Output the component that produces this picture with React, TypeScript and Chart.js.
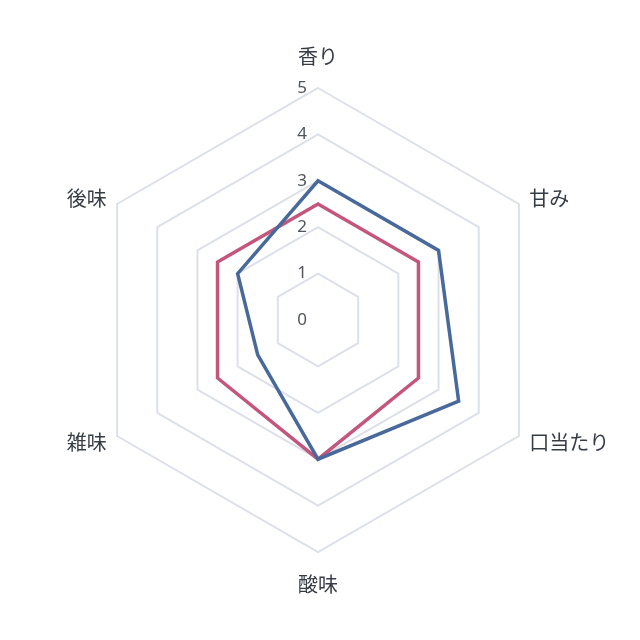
import { useEffect, useRef } from "react"
import { Chart, registerables } from "chart.js"

Chart.register(...registerables)

const categories = ["香り", "甘み", "口当たり", "酸味", "雑味", "後味"]
const blueValues = [3, 3, 3.5, 3, 1.5, 2]
const pinkValues = [2.5, 2.5, 2.5, 3, 2.5, 2.5]
const tickValues = [0, 1, 2, 3, 4, 5]

// draws tick numbers left of the vertical axis and the category labels
const radarText = {
  id: "radarText",
  afterDraw(chart: Chart) {
    const scale: any = chart.scales.r
    const ctx = chart.ctx
    ctx.save()
    ctx.textBaseline = "middle"

    ctx.font = "17px 'Noto Sans', sans-serif"
    ctx.fillStyle = "#4f545c"
    ctx.textAlign = "center"
    tickValues.forEach((v) => {
      const d = scale.getDistanceFromCenterForValue(v)
      ctx.fillText(String(v), scale.xCenter - 16, scale.yCenter - d)
    })

    ctx.font = "20px 'Noto Sans CJK JP', sans-serif"
    ctx.fillStyle = "#363c45"
    categories.forEach((label, i) => {
      const probe = scale.getPointPosition(i, scale.drawingArea)
      const vertical = Math.abs(probe.x - scale.xCenter) < 1
      const pos = scale.getPointPosition(i, scale.drawingArea + (vertical ? 32 : 12))
      if (vertical) ctx.textAlign = "center"
      else ctx.textAlign = pos.x > scale.xCenter ? "left" : "right"
      ctx.fillText(label, pos.x, pos.y)
    })

    ctx.restore()
  },
}

export default function App() {
  const chartRef = useRef<HTMLCanvasElement>(null)
  const chartInstance = useRef<Chart | null>(null)

  useEffect(() => {
    if (!chartRef.current) return
    if (chartInstance.current) chartInstance.current.destroy()

    const ctx = chartRef.current.getContext("2d")
    if (!ctx) return

    chartInstance.current = new Chart(ctx, {
      type: "radar",
      data: {
        labels: categories,
        datasets: [
          {
            data: blueValues,
            borderColor: "#48699a",
            borderWidth: 3.5,
            backgroundColor: "transparent",
            fill: false,
            pointRadius: 0,
            tension: 0,
          },
          {
            data: pinkValues,
            borderColor: "#c4567e",
            borderWidth: 3.5,
            backgroundColor: "transparent",
            fill: false,
            pointRadius: 0,
            tension: 0,
          },
        ],
      },
      options: {
        animation: false,
        responsive: true,
        maintainAspectRatio: false,
        layout: {
          padding: { left: 86, right: 90, top: 88, bottom: 88 },
        },
        scales: {
          r: {
            min: 0,
            max: 5,
            ticks: { display: false, stepSize: 1 },
            grid: { color: "#dce0e8", lineWidth: 2 },
            angleLines: { display: false },
            pointLabels: { display: false },
          },
        },
        plugins: {
          legend: { display: false },
          tooltip: { enabled: false },
        },
      },
      plugins: [radarText],
    })

    return () => {
      if (chartInstance.current) {
        chartInstance.current.destroy()
        chartInstance.current = null
      }
    }
  }, [])

  return (
    <div style={{ position: "fixed", top: 0, left: 0, width: 640, height: 640, background: "#fff" }}>
      <canvas ref={chartRef} />
    </div>
  )
}
